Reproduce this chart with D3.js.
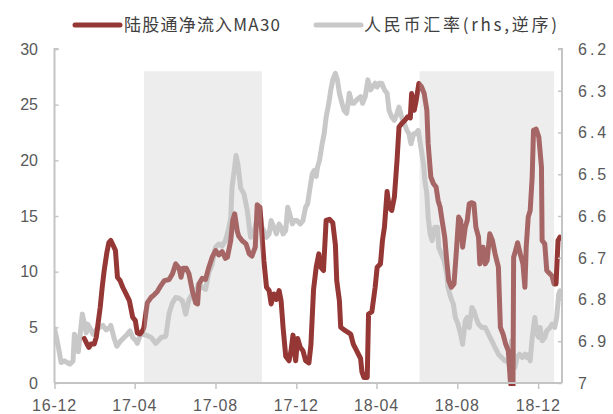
<!DOCTYPE html>
<html>
<head>
<meta charset="utf-8">
<script src="https://cdn.jsdelivr.net/npm/d3@7/dist/d3.min.js"></script>
<style>
  html, body { margin: 0; padding: 0; background: #ffffff; }
  svg { display: block; }
</style>
</head>
<body>
<svg id="chart" width="613" height="414"></svg>
<script>
// 陆股通净流入 30日均值（亿元，左轴）
const flowDates = ["2017-01-15","2017-01-19","2017-01-22","2017-01-25","2017-01-30","2017-02-02","2017-02-04","2017-02-08","2017-02-11","2017-02-14","2017-02-18","2017-02-21","2017-02-24","2017-02-28","2017-03-03","2017-03-06","2017-03-10","2017-03-14","2017-03-19","2017-03-24","2017-03-29","2017-04-02","2017-04-05","2017-04-09","2017-04-13","2017-04-15","2017-04-20","2017-04-26","2017-04-30","2017-05-05","2017-05-10","2017-05-16","2017-05-23","2017-05-28","2017-06-02","2017-06-07","2017-06-10","2017-06-13","2017-06-18","2017-06-22","2017-06-27","2017-07-02","2017-07-05","2017-07-07","2017-07-12","2017-07-17","2017-07-22","2017-07-27","2017-08-01","2017-08-06","2017-08-11","2017-08-16","2017-08-19","2017-08-24","2017-08-27","2017-08-30","2017-09-03","2017-09-05","2017-09-10","2017-09-16","2017-09-21","2017-09-25","2017-09-30","2017-10-03","2017-10-07","2017-10-10","2017-10-13","2017-10-17","2017-10-21","2017-10-24","2017-10-28","2017-11-01","2017-11-05","2017-11-08","2017-11-11","2017-11-15","2017-11-20","2017-11-23","2017-11-26","2017-11-30","2017-12-03","2017-12-07","2017-12-11","2017-12-15","2017-12-20","2017-12-23","2017-12-27","2017-12-31","2018-01-04","2018-01-07","2018-01-11","2018-01-15","2018-01-20","2018-01-25","2018-01-29","2018-01-31","2018-02-04","2018-02-06","2018-02-13","2018-02-21","2018-02-25","2018-03-02","2018-03-08","2018-03-10","2018-03-13","2018-03-18","2018-03-20","2018-03-25","2018-03-30","2018-04-02","2018-04-07","2018-04-10","2018-04-13","2018-04-17","2018-04-20","2018-04-24","2018-04-28","2018-05-02","2018-05-05","2018-05-09","2018-05-14","2018-05-18","2018-05-22","2018-05-24","2018-05-28","2018-05-31","2018-06-04","2018-06-08","2018-06-12","2018-06-16","2018-06-18","2018-06-22","2018-06-26","2018-06-30","2018-07-03","2018-07-06","2018-07-09","2018-07-13","2018-07-16","2018-07-19","2018-07-23","2018-07-27","2018-07-31","2018-08-03","2018-08-06","2018-08-09","2018-08-13","2018-08-16","2018-08-19","2018-08-23","2018-08-26","2018-08-29","2018-09-02","2018-09-04","2018-09-07","2018-09-09","2018-09-12","2018-09-15","2018-09-19","2018-09-23","2018-09-27","2018-10-02","2018-10-05","2018-10-09","2018-10-13","2018-10-17","2018-10-20","2018-10-22","2018-10-24","2018-10-25","2018-10-28","2018-10-31","2018-11-04","2018-11-08","2018-11-11","2018-11-13","2018-11-16","2018-11-19","2018-11-22","2018-11-24","2018-11-28","2018-12-02","2018-12-06","2018-12-07","2018-12-11","2018-12-14","2018-12-19","2018-12-22","2018-12-25","2018-12-28","2018-12-31","2019-01-03"];
const flowValues = [4.0,3.5,3.2,3.5,3.5,4.1,5.0,6.8,8.6,10.1,11.7,12.6,12.8,12.3,11.9,9.5,9.2,8.6,8.0,7.4,5.9,5.6,4.5,4.4,4.7,5.0,7.2,7.7,7.9,8.2,8.7,9.2,9.3,9.8,10.7,10.3,9.5,10.3,10.3,9.8,8.3,7.2,7.1,8.9,9.4,9.3,10.4,11.3,11.9,11.5,11.8,11.2,11.3,12.8,14.6,15.2,13.6,13.2,12.8,12.5,11.6,11.4,12.2,16.0,15.8,13.4,11.0,8.6,8.3,7.1,8.0,7.5,8.3,7.4,5.0,2.4,2.0,2.9,4.3,2.0,4.0,3.2,2.9,2.0,1.8,3.4,8.4,10.4,11.6,10.4,10.1,14.6,14.7,14.4,12.4,9.2,7.4,5.0,4.7,4.4,3.5,2.9,2.2,1.0,0.5,0.5,6.2,6.4,8.6,10.4,10.7,12.8,14.0,17.2,15.8,15.5,16.7,20.0,23.0,23.3,23.6,23.9,23.8,26.0,24.5,25.4,26.9,26.6,26.0,24.5,21.5,18.5,17.9,17.6,16.4,15.8,14.6,13.1,11.0,9.2,8.6,8.9,12.2,14.9,14.6,12.2,14.0,14.6,16.1,16.2,16.1,14.0,13.1,10.7,12.2,12.2,10.7,11.0,13.4,12.8,11.6,10.4,5.0,4.4,3.5,2.9,0.2,-0.5,-0.5,11.3,11.9,12.6,11.6,10.7,8.6,12.2,14.9,15.5,18.5,22.7,22.8,22.1,19.4,12.8,12.5,10.1,9.8,9.6,8.9,8.9,12.8,13.1];

// 人民币兑美元汇率（右轴，逆序）
const fxDates = ["2016-12-01","2016-12-04","2016-12-07","2016-12-11","2016-12-16","2016-12-24","2016-12-29","2016-12-31","2017-01-04","2017-01-06","2017-01-12","2017-01-18","2017-01-20","2017-01-23","2017-01-28","2017-02-02","2017-02-07","2017-02-12","2017-02-17","2017-02-22","2017-02-24","2017-03-01","2017-03-05","2017-03-11","2017-03-16","2017-03-21","2017-03-25","2017-03-29","2017-04-03","2017-04-05","2017-04-10","2017-04-18","2017-04-26","2017-05-03","2017-05-11","2017-05-18","2017-05-23","2017-05-28","2017-06-02","2017-06-07","2017-06-12","2017-06-17","2017-06-22","2017-06-27","2017-07-02","2017-07-07","2017-07-12","2017-07-17","2017-07-22","2017-07-27","2017-08-01","2017-08-06","2017-08-11","2017-08-16","2017-08-21","2017-08-24","2017-08-26","2017-08-29","2017-09-01","2017-09-04","2017-09-08","2017-09-13","2017-09-18","2017-09-21","2017-09-23","2017-09-28","2017-10-03","2017-10-07","2017-10-10","2017-10-13","2017-10-17","2017-10-21","2017-10-24","2017-10-28","2017-11-01","2017-11-05","2017-11-08","2017-11-11","2017-11-15","2017-11-18","2017-11-21","2017-11-25","2017-11-28","2017-12-02","2017-12-07","2017-12-11","2017-12-15","2017-12-18","2017-12-21","2017-12-25","2017-12-28","2017-12-31","2018-01-02","2018-01-05","2018-01-09","2018-01-12","2018-01-15","2018-01-19","2018-01-22","2018-01-25","2018-01-29","2018-02-01","2018-02-04","2018-02-08","2018-02-11","2018-02-15","2018-02-19","2018-02-23","2018-02-26","2018-03-02","2018-03-08","2018-03-11","2018-03-15","2018-03-19","2018-03-23","2018-03-26","2018-03-30","2018-04-02","2018-04-05","2018-04-09","2018-04-13","2018-04-17","2018-04-20","2018-04-24","2018-04-28","2018-05-02","2018-05-05","2018-05-09","2018-05-13","2018-05-17","2018-05-20","2018-05-23","2018-05-27","2018-05-30","2018-06-03","2018-06-07","2018-06-11","2018-06-13","2018-06-16","2018-06-18","2018-06-21","2018-06-24","2018-06-28","2018-07-02","2018-07-04","2018-07-08","2018-07-12","2018-07-16","2018-07-18","2018-07-22","2018-07-26","2018-07-29","2018-08-02","2018-08-06","2018-08-09","2018-08-13","2018-08-16","2018-08-19","2018-08-23","2018-08-26","2018-08-29","2018-09-02","2018-09-07","2018-09-12","2018-09-17","2018-09-22","2018-09-27","2018-10-02","2018-10-07","2018-10-12","2018-10-15","2018-10-18","2018-10-22","2018-10-24","2018-10-27","2018-10-30","2018-11-03","2018-11-07","2018-11-11","2018-11-14","2018-11-17","2018-11-19","2018-11-22","2018-11-26","2018-11-29","2018-12-02","2018-12-04","2018-12-07","2018-12-11","2018-12-14","2018-12-19","2018-12-22","2018-12-26","2018-12-29","2019-01-01","2019-01-03"];
const fxValues = [6.870,6.891,6.915,6.951,6.947,6.955,6.947,6.883,6.895,6.925,6.835,6.880,6.859,6.867,6.883,6.872,6.867,6.862,6.873,6.868,6.862,6.893,6.912,6.899,6.891,6.883,6.875,6.891,6.899,6.905,6.883,6.885,6.891,6.905,6.891,6.888,6.833,6.808,6.795,6.797,6.803,6.835,6.800,6.787,6.781,6.762,6.771,6.776,6.735,6.715,6.675,6.667,6.672,6.659,6.630,6.605,6.530,6.495,6.455,6.478,6.533,6.547,6.587,6.627,6.651,6.640,6.605,6.587,6.627,6.635,6.651,6.643,6.611,6.627,6.643,6.619,6.627,6.643,6.635,6.579,6.595,6.619,6.611,6.611,6.619,6.611,6.579,6.571,6.539,6.499,6.491,6.505,6.483,6.467,6.427,6.403,6.363,6.330,6.298,6.274,6.258,6.274,6.306,6.330,6.347,6.354,6.306,6.330,6.330,6.322,6.314,6.330,6.314,6.274,6.298,6.291,6.282,6.291,6.282,6.282,6.298,6.306,6.347,6.363,6.371,6.354,6.339,6.363,6.379,6.395,6.403,6.427,6.403,6.403,6.395,6.435,6.475,6.515,6.547,6.603,6.643,6.659,6.627,6.627,6.675,6.691,6.707,6.739,6.771,6.795,6.811,6.843,6.859,6.883,6.907,6.851,6.843,6.867,6.819,6.827,6.843,6.859,6.867,6.867,6.883,6.899,6.915,6.931,6.939,6.947,6.947,6.955,6.899,6.923,6.963,6.939,6.931,6.939,6.931,6.939,6.931,6.947,6.891,6.843,6.883,6.891,6.867,6.899,6.891,6.875,6.867,6.859,6.867,6.843,6.787,6.779];

// 阴影区间
const bandStarts = ["2017-04-15","2018-06-05"];
const bandEnds = ["2017-10-10","2018-12-25"];
const bandTop = 28;

// 坐标轴刻度
const leftTicks = [0,5,10,15,20,25,30];
const rightTicks = [6.2,6.3,6.4,6.5,6.6,6.7,6.8,6.9,7];
const rightTickLabels = ["6.2","6.3","6.4","6.5","6.6","6.7","6.8","6.9","7"];
const xTickDates = ["2016-12-01","2017-04-01","2017-08-01","2017-12-01","2018-04-01","2018-08-01","2018-12-01"];
const xTickLabels = ["16-12","17-04","17-08","17-12","18-04","18-08","18-12"];

const seriesNames = ["陆股通净流入MA30","人民币汇率(rhs,逆序)"];

const parse = d3.timeParse("%Y-%m-%d");
const margin = {left: 54.5, right: 562, top: 49, bottom: 383};

const x = d3.scaleTime()
  .domain([parse("2016-12-01"), parse("2019-01-06")])
  .range([margin.left, margin.right]);
const yL = d3.scaleLinear().domain([0, 30]).range([margin.bottom, margin.top]);
const yR = d3.scaleLinear().domain([6.2, 7]).range([margin.top, margin.bottom]);

const svg = d3.select("#chart");
const RED = "#953735", GREY = "#c8c8c8", AXIS = "#c4c4c4", TXT = "#595959";

svg.append("defs").append("clipPath").attr("id", "plotClip")
  .append("rect")
  .attr("x", margin.left).attr("y", margin.top - 10)
  .attr("width", margin.right - margin.left)
  .attr("height", margin.bottom - margin.top + 13);

const flow = flowDates.map((d, i) => ({date: parse(d), v: flowValues[i]}));
const fx = fxDates.map((d, i) => ({date: parse(d), v: fxValues[i]}));

const plot = svg.append("g").attr("clip-path", "url(#plotClip)");

plot.append("path").datum(fx)
  .attr("fill", "none").attr("stroke", GREY).attr("stroke-width", 5)
  .attr("stroke-linejoin", "round").attr("stroke-linecap", "round")
  .attr("d", d3.line().x(d => x(d.date)).y(d => yR(d.v)));

plot.append("path").datum(flow)
  .attr("fill", "none").attr("stroke", RED).attr("stroke-width", 5)
  .attr("stroke-linejoin", "round").attr("stroke-linecap", "round")
  .attr("d", d3.line().x(d => x(d.date)).y(d => yL(d.v)));

// 半透明阴影叠加在线条之上
svg.append("g").selectAll("rect")
  .data(bandStarts.map((s, i) => ({s: parse(s), e: parse(bandEnds[i])})))
  .join("rect")
  .attr("x", d => x(d.s))
  .attr("width", d => x(d.e) - x(d.s))
  .attr("y", yL(bandTop))
  .attr("height", yL(0) - yL(bandTop))
  .attr("fill", "#c8c8c8")
  .attr("fill-opacity", 0.33);

// 左轴
const gL = svg.append("g").attr("transform", `translate(${margin.left},0)`)
  .call(d3.axisRight(yL).tickValues(leftTicks).tickSize(4).tickFormat(""));
gL.select(".domain").attr("stroke", AXIS).attr("stroke-width", 2).attr("d", `M4,${margin.top}H0V${margin.bottom}`);
gL.selectAll(".tick line").attr("stroke", AXIS).attr("stroke-width", 1.5);
svg.append("g").selectAll("text").data(leftTicks).join("text")
  .attr("x", 38).attr("y", d => yL(d)).attr("dy", "0.36em")
  .attr("text-anchor", "end")
  .attr("font-family", "Liberation Sans, Arial, sans-serif")
  .attr("font-size", 16).attr("fill", TXT)
  .text(d => d);

// 右轴
const gR = svg.append("g").attr("transform", `translate(${margin.right},0)`)
  .call(d3.axisLeft(yR).tickValues(rightTicks).tickSize(4).tickFormat(""));
gR.select(".domain").attr("stroke", AXIS).attr("stroke-width", 2).attr("d", `M-4,${margin.top}H0V${margin.bottom}`);
gR.selectAll(".tick line").attr("stroke", AXIS).attr("stroke-width", 1.5);
svg.append("g").selectAll("text").data(rightTicks).join("text")
  .attr("x", 578).attr("y", d => yR(d)).attr("dy", "0.36em")
  .attr("text-anchor", "start")
  .attr("font-family", "Liberation Sans, Arial, sans-serif")
  .attr("font-size", 16).attr("letter-spacing", "3px").attr("fill", TXT)
  .text((d, i) => rightTickLabels[i]);

// 横轴
const gX = svg.append("g").attr("transform", `translate(0,${margin.bottom})`)
  .call(d3.axisBottom(x).tickValues(xTickDates.map(parse)).tickSize(6).tickFormat(""));
gX.select(".domain").attr("stroke", AXIS).attr("stroke-width", 2).attr("d", `M${margin.left},0H${margin.right}`);
gX.selectAll(".tick line").attr("stroke", AXIS).attr("stroke-width", 1.5);
svg.append("g").selectAll("text").data(xTickDates).join("text")
  .attr("x", d => x(parse(d))).attr("y", 411)
  .attr("text-anchor", "middle")
  .attr("font-family", "Liberation Sans, Arial, sans-serif")
  .attr("font-size", 16).attr("letter-spacing", "0.8px").attr("fill", TXT)
  .text((d, i) => xTickLabels[i]);

// 图例
const legend = svg.append("g");
const legendItems = [
  {name: seriesNames[0], color: RED, x0: 75, x1: 120, tx: 124, w: 156},
  {name: seriesNames[1], color: GREY, x0: 316, x1: 361, tx: 364, w: 193}
];
legendItems.forEach(it => {
  legend.append("line")
    .attr("x1", it.x0).attr("x2", it.x1).attr("y1", 25).attr("y2", 25)
    .attr("stroke", it.color).attr("stroke-width", 5).attr("stroke-linecap", "round");
  legend.append("text")
    .attr("x", it.tx).attr("y", 31)
    .attr("font-family", "Noto Sans CJK SC, sans-serif")
    .attr("font-size", 17).attr("fill", "#404040")
    .attr("textLength", it.w).attr("lengthAdjust", "spacing")
    .text(it.name);
});
</script>
</body>
</html>
